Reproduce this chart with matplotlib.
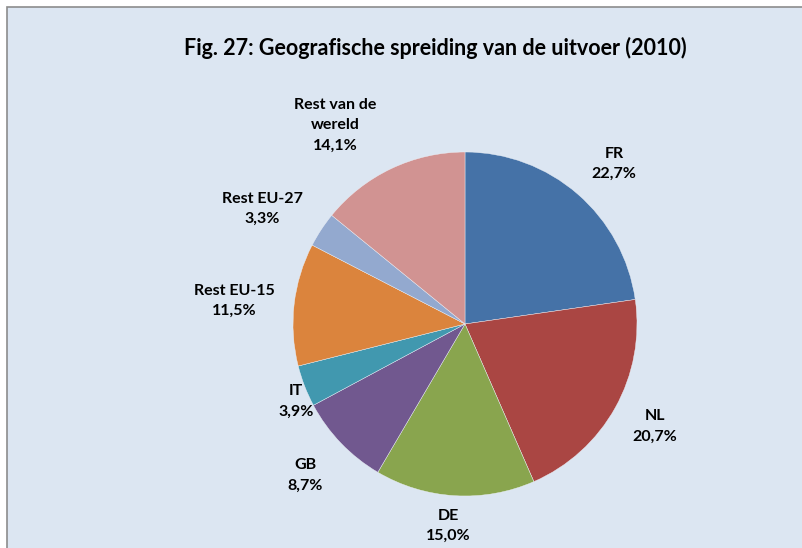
import numpy as np
import matplotlib.pyplot as plt
from matplotlib.patches import Rectangle

# Export share per destination (2010), clockwise from 12 o'clock
labels = ["FR", "NL", "DE", "GB", "IT", "Rest EU-15", "Rest EU-27", "Rest van de\nwereld"]
shares = [22.7, 20.7, 15.0, 8.7, 3.9, 11.5, 3.3, 14.1]
colors = ["#4572A7", "#AA4643", "#89A54E", "#71588F", "#4198AF",
          "#DB843D", "#93A9CF", "#D19392"]

# label placement tweaks (distance in radii, angle shift in degrees),
# to mimic the Excel "best fit" placement
label_dist = [1.27, 1.255, 1.178, 1.28, 1.082, 1.35, 1.355, 1.38]
label_shift = [-2.1, 0.8, -1.3, -0.4, 3.4, 0.9, 3.6, 7.8]

bg = "#DCE6F2"
font = ["Lato", "DejaVu Sans"]

fig = plt.figure(figsize=(8.03, 5.48), dpi=100)
fig.patch.set_facecolor("white")

# chart area with grey border (cut off at right and bottom)
fig.patches.append(Rectangle((7 / 803, -0.1), 1.0, (548 - 7) / 548 + 0.1,
                             transform=fig.transFigure, facecolor=bg,
                             edgecolor="#8C8C8C", linewidth=1.2, zorder=-5))

fig.text(435 / 803, 1 - 48 / 548, "Fig. 27: Geografische spreiding van de uitvoer (2010)",
         ha="center", va="center", fontsize=15.5, fontweight="bold",
         family=font)

# pie: centre (465, 324), radius 172 px
r_px = 172
cx, cy = 465, 324
ax = fig.add_axes([(cx - r_px) / 803, 1 - (cy + r_px) / 548,
                   2 * r_px / 803, 2 * r_px / 548])
ax.set_zorder(2)
ax.set_facecolor("none")
wedges, _ = ax.pie(shares, colors=colors, startangle=90, counterclock=False,
                   radius=1.0, wedgeprops=dict(linewidth=0.3, edgecolor="#EEF2F8"))
ax.set_xlim(-1, 1)
ax.set_ylim(-1, 1)
ax.set_aspect("equal")
ax.axis("off")

for w, lab, val, d, sh in zip(wedges, labels, shares, label_dist, label_shift):
    ang = np.deg2rad((w.theta1 + w.theta2) / 2 + sh)
    txt = f"{lab}\n{val:.1f}%".replace(".", ",")
    ax.text(d * np.cos(ang), d * np.sin(ang), txt, ha="center", va="center",
            fontsize=11.5, fontweight="bold", family=font, linespacing=1.55,
            clip_on=False)

fig.savefig("out.png", dpi=100, facecolor=fig.get_facecolor())
